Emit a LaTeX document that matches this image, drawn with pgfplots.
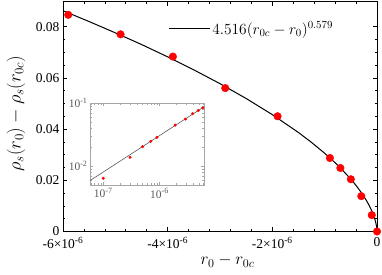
\documentclass[border=0pt]{standalone}
\usepackage{fix-cm}
\usepackage{fontspec}
\setmainfont{Liberation Serif}
\usepackage{pgfplots}
\pgfplotsset{compat=1.18}
\usetikzlibrary{calc}
\begin{document}
\begin{tikzpicture}
\path[use as bounding box] (-63pt,-43.5pt) rectangle (319pt,231.5pt);
\begin{axis}[name=main, at={(0,0)}, anchor=south west,
  scale only axis, width=314pt, height=230.5pt,
  xmin=-6e-6, xmax=0, ymin=0, ymax=0.09,
  xtick={-6e-6,-4e-6,-2e-6,0},
  xticklabels={-6×10\textsuperscript{-6},-4×10\textsuperscript{-6},-2×10\textsuperscript{-6},0},
  ytick={0,0.02,0.04,0.06,0.08},
  yticklabels={0,0.02,0.04,0.06,0.08},
  scaled ticks=false,
  minor x tick num=4, minor y tick num=3,
  tick align=inside, tick pos=both,
  major tick length=4.5pt, minor tick length=2.5pt,
  axis line style={line width=0.8pt},
  every tick/.style={black, line width=0.6pt},
  tick label style={font=\fontsize{13.5}{14}\selectfont},
  xticklabel style={yshift=-2pt},
  xlabel={$r_0-r_{0c}$},
  ylabel={$\rho_s(r_0)-\rho_s(r_{0c})$},
  xlabel style={font=\fontsize{17}{18}\selectfont, at={(axis description cs:0.524,-0.128)}, anchor=center},
  ylabel style={font=\fontsize{18.5}{19}\selectfont, at={(axis description cs:-0.150,0.512)}, anchor=center},
  clip=false,
  legend style={draw=none, fill=none, at={(axis description cs:0.325,0.879)}, anchor=west,
    font=\fontsize{15.5}{16}\selectfont},
  legend image code/.code={\draw[#1] (0pt,0pt) -- (41pt,0pt);},
]
\addplot[black, line width=1pt] coordinates {
(-6e-6,0.08622) (-5.5e-6,0.08197) (-5e-6,0.07757) (-4.5e-6,0.07302) (-4e-6,0.06819)
(-3.5e-6,0.06311) (-3e-6,0.05772) (-2.5e-6,0.05193) (-2e-6,0.04563) (-1.5e-6,0.03864)
(-1.25e-6,0.03477) (-1e-6,0.03055) (-8.5e-7,0.02780) (-7e-7,0.02486) (-5e-7,0.02045)
(-4e-7,0.01797) (-3e-7,0.01522) (-2e-7,0.01203) (-1.5e-7,0.01019) (-1e-7,0.00805)
(-7e-8,0.00655) (-5e-8,0.00539) (-3e-8,0.00401) (-2e-8,0.00317) (-1e-8,0.00212)
(-5e-9,0.00142) (-2e-9,0.00084) (-1e-9,0.00056) (-1e-10,0.000148) (0,0)
};
\addlegendentry{$4.516(r_{0c}-r_0)^{0.579}$}
\addplot[only marks, mark=*, mark size=3.8pt, color=red, forget plot] coordinates {
(-5.9e-6,0.0846) (-4.9e-6,0.0770) (-3.9e-6,0.0683) (-2.9e-6,0.0560) (-1.9e-6,0.0450)
(-0.9e-6,0.0287) (-0.7e-6,0.0248) (-0.5e-6,0.0204) (-0.3e-6,0.0138) (-0.1e-6,0.0064) (0,0)
};
\end{axis}
\begin{axis}[at={($(main.south west)+(27pt,46.5pt)$)}, anchor=south west,
  scale only axis, width=114pt, height=81.7pt,
  xmode=log, ymode=log,
  xmin=5.8e-8, xmax=6.2e-6, ymin=0.005, ymax=0.1,
  xtick={1e-7,1e-6}, xticklabels={10\textsuperscript{-7},10\textsuperscript{-6}},
  ytick={0.01,0.1}, yticklabels={10\textsuperscript{-2},10\textsuperscript{-1}},
  minor xtick={6e-8,7e-8,8e-8,9e-8,2e-7,3e-7,4e-7,5e-7,6e-7,7e-7,8e-7,9e-7,2e-6,3e-6,4e-6,5e-6,6e-6},
  minor ytick={0.005,0.006,0.007,0.008,0.009,0.02,0.03,0.04,0.05,0.06,0.07,0.08,0.09},
  tick align=inside, tick pos=both,
  major tick length=3pt, minor tick length=1.8pt,
  axis line style={gray!70, line width=0.6pt},
  every tick/.style={gray!70, line width=0.4pt},
  tick label style={font=\fontsize{11.5}{12}\selectfont, text=black!65},
  yticklabel style={xshift=1pt},
  clip=false,
]
\addplot[black!65, line width=0.6pt] coordinates {(5.8e-8,0.005875) (6.2e-6,0.08787)};
\addplot[only marks, mark=*, mark size=1.3pt, color=red] coordinates {
(5.9e-6,0.0846) (4.9e-6,0.0770) (3.9e-6,0.0683) (2.9e-6,0.0560) (1.9e-6,0.0450)
(0.9e-6,0.0287) (0.7e-6,0.0248) (0.5e-6,0.0204) (0.3e-6,0.0138) (0.1e-6,0.0064)
};
\end{axis}
\end{tikzpicture}
\end{document}
